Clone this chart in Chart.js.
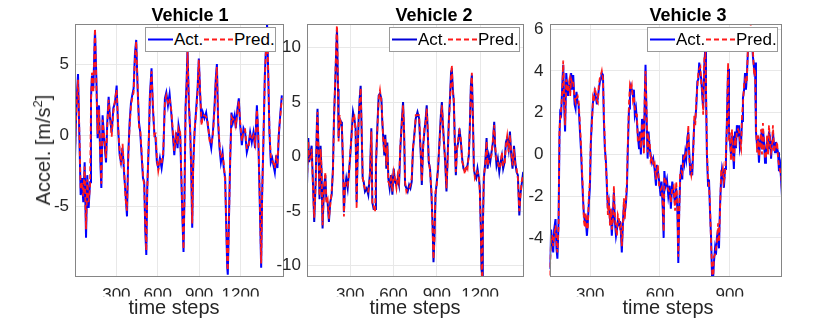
<!DOCTYPE html>
<html><head><meta charset="utf-8">
<script src="https://cdn.jsdelivr.net/npm/chart.js@4.4.0/dist/chart.umd.min.js"></script>
<style>
body{margin:0;background:#fff;}
#wrap{position:relative;width:830px;height:321px;overflow:hidden;font-family:"Liberation Sans",Arial,Helvetica,sans-serif;color:#262626;background:#fff;}
canvas{position:absolute;left:0;top:0;}
.t{position:absolute;top:6px;font-weight:bold;font-size:18px;line-height:18px;color:#000;transform:translateX(-50%);white-space:nowrap;z-index:2;}
.xl{position:absolute;top:297px;font-size:20px;line-height:20px;transform:translateX(-50%);white-space:nowrap;z-index:2;}
.yl{position:absolute;left:43px;top:150px;font-size:20px;line-height:20px;white-space:nowrap;transform:translate(-50%,-50%) rotate(-90deg);z-index:2;}
.yl sup{font-size:13px;line-height:0;vertical-align:8px;}
.lg{position:absolute;width:129px;height:23px;border:1px solid #9a9a9a;background:#fff;z-index:3;font-size:17px;line-height:17px;color:#000;}
.lg span{position:absolute;top:3px;white-space:nowrap;}
.lg svg{position:absolute;top:10px;}
</style>
</head>
<body>
<div id="wrap">
<canvas id="c1" width="830" height="321"></canvas>
<canvas id="c2" width="830" height="321"></canvas>
<canvas id="c3" width="830" height="321"></canvas>
<div class="t" style="left:190px">Vehicle 1</div>
<div class="t" style="left:434px">Vehicle 2</div>
<div class="t" style="left:688px">Vehicle 3</div>
<div class="yl">Accel. [m/s<sup>2</sup>]</div>
<div class="xl" style="left:174px">time steps</div>
<div class="xl" style="left:415px">time steps</div>
<div class="xl" style="left:668px">time steps</div>
<div id="lg1" class="lg" style="left:145px;top:27px"></div>
<div id="lg2" class="lg" style="left:389px;top:27px"></div>
<div id="lg3" class="lg" style="left:647px;top:27px"></div>
</div>
<script>
// ---------- Vehicle 1 ----------
const v1Steps = [0,10,22,31,41,51,60,70,80,89,
99,109,116,123,133,145,155,164,174,184,
191,200,213,225,234,244,254,266,278,290,
302,314,324,333,345,357,367,377,386,396,
406,415,425,435,444,454,464,473,483,493,
502,510,517,524,534,543,555,565,575,584,
594,604,616,628,640,652,662,674,686,698,
710,720,732,744,751,763,773,780,787,794,
802,809,816,826,836,843,850,857,867,879,
889,898,908,918,927,939,951,963,976,988,
1000,1012,1021,1029,1038,1048,1058,1070,1079,1089,
1096,1104,1108,1116,1125,1135,1145,1157,1166,1178,
1188,1198,1210,1222,1234,1246,1258,1270,1282,1294,
1306,1319,1328,1335,1343,1350,1357,1367,1376,1386,
1393,1401,1410,1420,1430,1439,1449,1459,1468,1478,
1488,1500];
const v1Act = [-1.6,2.1,4.3,0.2,-4.2,-3.0,-4.7,-1.9,-7.2,-2.8,
-5.1,-3.3,2.6,4.2,3.3,7.4,4.0,-0.2,2.1,-1.9,
-3.7,1.4,-0.5,-1.9,0.9,2.7,1.2,0.2,1.9,2.3,
3.5,0.2,-1.4,-1.9,-0.9,-2.8,-4.2,-5.7,-1.4,0.9,
2.3,2.8,3.3,5.8,6.7,3.3,0.9,0.2,-1.4,-3.0,
-3.3,-6.8,-8.4,-3.7,-0.9,2.8,4.7,1.9,0.2,-0.2,
-1.9,-2.3,-1.6,-2.3,-1.4,2.6,3.0,2.1,2.9,1.6,
0.0,-1.4,0.2,-0.9,0.7,0.0,-3.7,-6.1,-8.2,-4.2,
2.1,3.7,6.1,2.1,0.2,-2.6,-6.5,-2.1,0.2,1.9,
3.3,5.4,2.8,0.9,1.6,1.2,1.6,0.7,-0.2,-0.9,
0.2,2.1,4.0,5.0,0.9,-0.9,-1.9,-1.2,-2.3,-3.0,
-6.1,-9.3,-9.8,-6.1,-1.9,1.6,0.9,1.4,0.5,1.9,
2.6,0.7,-0.7,0.5,0.2,-1.2,-0.7,0.2,-0.5,0.2,
-0.9,2.1,0.2,-2.6,-6.1,-9.3,-4.2,-0.2,4.0,6.5,
7.8,4.4,0.2,-1.9,-1.6,-2.1,-2.6,-1.4,-2.3,0.0,
1.4,2.8];
const v1Pred = [-1.2,1.8,3.9,0.5,-3.8,-3.3,-4.3,-2.2,-6.6,-3.1,
-4.7,-3.6,2.3,4.4,3.0,7.5,3.6,0.1,1.8,-1.6,
-3.4,1.1,-0.2,-1.6,0.6,2.5,1.4,-0.1,1.6,2.5,
3.2,0.5,-1.1,-2.1,-0.6,-2.5,-4.5,-5.3,-1.7,0.6,
2.1,2.6,3.0,5.5,6.6,3.6,0.6,0.4,-1.1,-2.7,
-3.6,-6.4,-8.1,-3.9,-0.6,2.5,4.5,2.2,0.0,0.1,
-1.6,-2.5,-1.8,-2.0,-1.1,2.3,2.8,2.3,2.6,1.8,
0.3,-1.1,0.0,-0.6,0.5,0.2,-3.4,-5.8,-8.0,-4.5,
1.8,3.4,5.9,2.4,0.0,-2.3,-6.2,-2.4,0.4,1.6,
3.0,5.3,3.0,0.7,1.4,1.4,1.3,0.9,-0.4,-0.6,
0.0,1.8,3.8,4.8,1.2,-0.6,-1.6,-1.4,-2.0,-3.3,
-5.8,-9.0,-9.5,-6.4,-1.6,1.3,1.1,1.2,0.7,1.6,
2.4,0.9,-0.4,0.3,0.4,-0.9,-0.9,0.0,-0.3,0.0,
-0.6,1.8,0.4,-2.3,-5.8,-9.0,-4.5,0.1,3.7,6.3,
7.5,4.6,0.4,-1.6,-1.8,-1.9,-2.3,-1.6,-2.0,0.2,
1.2,2.6];
const v1XTicks = [300,600,900,1200];
const v1YTicks = [-5,0,5];

// ---------- Vehicle 2 ----------
const v2Steps = [0,9,15,22,32,41,50,60,69,73,
80,87,94,101,108,117,127,134,143,152,
161,171,180,187,196,203,208,215,219,226,
236,242,249,256,263,272,282,291,300,310,
319,328,337,344,351,358,365,372,379,386,
393,402,414,425,437,446,453,462,472,478,
488,497,506,516,522,529,536,543,550,557,
564,573,583,592,601,610,620,629,638,647,
657,666,673,680,689,698,708,717,726,735,
742,754,766,777,789,796,805,814,823,830,
837,844,853,863,870,877,884,891,900,909,
918,928,935,941,948,958,967,974,983,992,
999,1004,1011,1018,1025,1032,1039,1048,1057,1067,
1076,1085,1094,1104,1113,1122,1129,1136,1143,1150,
1157,1164,1173,1182,1192,1198,1205,1210,1215,1219,
1226,1236,1245,1252,1261,1270,1279,1289,1298,1305,
1314,1323,1333,1342,1351,1360,1370,1379,1388,1398,
1407,1416,1425,1435,1444,1453,1462,1472,1479,1488,
1499];
const v2Act = [-2.6,1.7,-0.5,0.1,1.0,-2.3,-6.0,-2.3,3.2,4.4,
0.1,-3.9,1.0,-1.4,-6.6,-2.9,-1.7,-3.9,-4.2,-6.0,
-4.2,-3.5,-1.1,3.5,6.9,9.9,11.7,6.2,1.7,3.5,
3.2,2.6,-0.5,-5.1,-2.9,-2.0,-2.9,-1.4,0.1,2.3,
4.1,3.5,2.6,-4.2,0.1,3.5,5.3,6.5,2.3,-2.0,
-2.3,-3.2,-2.9,-3.5,-1.4,2.6,-4.2,-4.8,-4.8,-0.8,
2.8,5.6,5.8,5.3,3.2,1.7,0.1,2.0,-1.1,1.3,
-2.0,-2.9,-1.7,-3.5,-1.1,-2.3,-2.6,-2.0,-2.6,0.7,
3.2,5.0,2.3,-2.6,-2.9,-3.2,-2.6,-2.9,-2.3,0.7,
1.7,3.5,4.1,3.5,0.1,-2.6,1.0,2.3,3.5,4.7,
2.3,-0.5,-1.1,-3.5,-6.0,-9.7,-7.2,-3.5,-2.3,-1.1,
1.3,3.8,5.0,3.2,1.7,-0.5,-3.2,-0.5,3.2,5.6,
7.8,8.1,6.2,5.0,1.3,-1.7,0.7,1.3,2.6,1.3,
-0.2,-1.1,-1.3,-1.1,-0.8,0.1,2.8,6.5,7.5,3.8,
-1.1,-1.7,-2.0,-1.1,-2.0,-2.9,-6.6,-10.3,-10.9,-6.6,
-2.0,-0.5,1.7,-1.1,0.1,-0.5,0.4,1.3,3.2,0.7,
-0.8,-0.2,-1.4,-0.5,0.1,-1.1,-0.5,1.3,1.7,0.7,
2.3,0.1,-1.1,1.0,-0.5,-1.4,-1.7,-5.4,-3.5,-2.6,
-1.4];
const v2Pred = [-2.2,1.4,-0.2,-0.2,0.7,-2.6,-5.6,-2.6,2.9,4.1,
0.4,-3.6,0.7,-1.1,-6.3,-3.2,-1.4,-4.2,-3.9,-5.7,
-4.5,-3.2,-1.4,3.2,7.2,10.3,12.4,6.6,1.4,3.8,
2.9,2.9,-0.2,-5.5,-2.6,-2.3,-2.6,-1.7,0.4,2.0,
3.8,3.8,2.3,-4.8,0.4,3.2,5.0,6.3,2.6,-1.7,
-2.6,-2.9,-3.2,-3.2,-1.7,2.3,-4.5,-4.5,-5.1,-0.5,
2.5,5.3,6.1,5.0,3.5,1.4,0.4,1.7,-0.8,1.0,
-2.3,-2.6,-2.0,-3.2,-1.4,-2.0,-2.9,-1.7,-2.3,1.0,
2.9,4.7,2.6,-2.3,-3.2,-2.9,-2.9,-2.6,-2.0,1.0,
1.4,3.8,3.8,3.8,0.4,-2.3,0.7,2.6,3.2,4.4,
2.6,-0.2,-1.4,-3.2,-6.3,-9.4,-7.5,-3.2,-2.6,-0.8,
1.0,3.5,4.7,3.5,1.4,-0.2,-2.9,-0.8,2.9,5.3,
7.4,8.4,5.9,5.3,1.0,-1.4,0.4,1.6,2.3,1.6,
-0.5,-0.8,-1.6,-0.8,-1.1,0.4,2.5,6.2,7.7,3.5,
-0.8,-2.0,-1.7,-1.4,-1.7,-3.2,-6.3,-10.0,-11.2,-6.9,
-1.7,-0.8,1.4,-0.8,-0.2,-0.2,0.1,1.6,2.9,1.0,
-0.5,-0.5,-1.1,-0.8,0.4,-0.8,-0.8,1.0,1.9,0.4,
2.0,0.4,-0.8,0.7,-0.8,-1.1,-2.0,-5.0,-3.8,-2.3,
-1.7];
const v2XTicks = [300,600,900,1200];
const v2YTicks = [-10,-5,0,5,10];

// ---------- Vehicle 3 ----------
const v3Steps = [126,132,137,141,145,151,155,159,164,168,
171,175,180,184,188,192,197,201,205,210,
214,218,223,227,233,237,241,246,250,256,
260,264,269,273,277,281,286,290,294,299,
303,307,312,316,320,325,329,333,337,342,
346,350,355,359,363,368,372,376,380,385,
389,393,398,402,406,411,415,419,424,428,
432,436,441,445,449,454,458,462,467,471,
475,479,484,488,492,497,501,505,510,514,
518,523,527,531,535,538,543,547,551,556,
560,566,571,577,583,587,591,597,603,607,
612,616,619,624,630,636,642,647,653,659,
665,670,675,679,683,687,692,696,700,705,
709,713,718,722,726,731,735,739,743,748,
752,756,761,765,769,774,778,782,786,791,
795,798,802,807,811,815,820,824,828,832,
837,841,845,850,854,858,863,867,871,875,
880,884,888,893,897,901,906,910,914,918,
923,927,931,936,940,944,949,953,957,962,
966,970,974,979,983,987,992,996,1000,1005,
1009,1013,1018,1022,1026,1030,1035,1039,1043,1048,
1052,1056,1061,1065,1069,1074,1078,1082,1086,1091,
1095,1099,1104,1108,1112,1117,1121,1125];
const v3Act = [-5.5,-3.6,-4.2,-4.7,-3.6,-3.1,-4.5,-5.0,-3.2,0.9,
2.0,1.9,3.3,4.3,2.4,1.1,3.9,3.3,2.8,3.3,
3.0,3.9,3.1,3.8,2.4,2.2,3.0,2.5,2.4,1.1,
0.3,-0.8,-2.1,-2.9,-3.2,-3.1,-3.9,-3.2,-2.4,-1.5,
0.6,1.6,2.5,2.7,3.0,2.7,2.4,2.7,3.1,3.5,
3.6,3.9,3.8,1.6,0.3,-0.4,-1.6,-2.6,-2.3,-3.1,
-2.9,-3.9,-2.8,-1.8,-3.2,-3.9,-3.6,-3.2,-3.4,-3.2,
-3.7,-4.7,-3.2,-2.4,-2.8,-2.3,-1.6,0.3,2.2,3.1,
3.3,3.1,2.8,3.1,1.9,2.2,1.6,0.9,0.3,1.1,
0.0,1.7,1.2,0.3,2.8,4.3,1.6,-0.2,1.1,0.3,
0.0,-0.4,-0.2,-0.7,-1.5,-0.5,-0.8,-1.3,-2.0,-1.3,
-2.6,-4.0,-0.8,-1.5,-1.2,-2.0,-1.5,-2.6,-1.3,-1.8,
-2.4,-1.6,-2.6,-5.2,-2.6,-1.2,-0.5,-1.2,0.0,-0.4,
0.1,-0.2,0.8,1.1,0.1,-1.0,-0.7,-1.0,0.3,1.6,
1.7,2.2,3.5,3.6,4.4,3.9,3.6,2.8,2.2,4.3,
5.1,3.1,0.0,-1.5,-1.2,-2.6,-4.0,-5.8,-6.1,-5.2,
-4.5,-4.8,-4.0,-3.6,-4.5,-2.6,-1.2,-0.7,-1.0,-1.6,
-0.7,-0.2,1.6,4.1,1.1,0.6,0.0,0.9,0.3,-0.7,
1.1,0.3,1.4,0.9,1.4,0.3,0.6,1.6,2.7,3.1,
3.9,3.1,3.8,5.1,5.5,5.1,6.0,5.4,4.7,4.1,
4.4,1.1,0.4,0.6,-0.4,0.6,0.9,0.3,1.2,0.6,
-0.4,0.1,0.6,0.3,1.1,0.8,-0.2,0.6,1.1,0.4,
0.1,0.6,0.3,0.1,-0.8,-0.5,-1.2,-2.0];
const v3Pred = [-5.8,-3.9,-3.9,-4.4,-3.9,-3.4,-4.2,-4.7,-3.5,1.2,
1.7,2.2,3.0,4.5,2.7,1.4,3.6,3.0,3.1,3.5,
2.8,3.6,3.4,3.5,2.7,2.5,2.7,2.8,2.6,1.4,
0.6,-0.5,-1.8,-3.2,-3.5,-2.8,-3.6,-3.5,-2.1,-1.2,
0.9,1.3,2.7,2.5,3.2,2.9,2.6,2.5,3.3,3.7,
3.8,4.0,3.6,1.9,0.6,-0.7,-1.3,-2.9,-2.0,-3.4,
-2.6,-3.6,-3.1,-1.5,-2.9,-3.6,-3.9,-2.9,-3.1,-3.5,
-3.4,-4.4,-3.5,-2.1,-3.1,-2.0,-1.3,0.6,2.5,3.3,
3.1,3.3,2.6,2.8,2.2,1.9,1.9,0.6,0.6,0.8,
0.3,1.4,1.5,0.0,3.1,4.0,1.9,0.1,0.8,0.6,
-0.3,-0.1,-0.5,-0.4,-1.2,-0.8,-0.5,-1.6,-1.7,-1.6,
-2.3,-3.7,-1.1,-1.2,-1.5,-1.7,-1.8,-2.3,-1.6,-1.5,
-2.7,-1.3,-2.3,-4.9,-2.9,-0.9,-0.8,-0.9,-0.3,-0.1,
-0.2,0.1,0.5,1.4,-0.2,-0.7,-1.0,-0.7,0.0,1.9,
1.4,2.5,3.2,3.9,4.1,4.2,3.3,3.1,1.9,4.6,
4.8,3.4,0.3,-1.2,-1.5,-2.3,-4.3,-5.5,-6.4,-4.9,
-4.8,-4.5,-4.3,-3.3,-4.2,-2.9,-0.9,-1.0,-0.7,-1.3,
-1.0,0.1,1.3,4.4,0.8,0.9,-0.3,1.2,0.0,-0.4,
0.8,0.6,1.1,1.2,1.1,0.6,0.3,1.9,2.4,3.4,
3.6,3.4,3.5,5.4,5.2,5.4,6.5,5.1,5.0,3.8,
4.1,1.4,0.1,0.9,-0.1,0.3,1.2,0.0,1.5,0.3,
-0.1,-0.2,0.9,0.0,1.4,0.5,0.1,0.3,1.4,0.1,
0.4,0.3,0.6,-0.2,-0.5,-0.8,-0.9,-1.8];
const v3XTicks = [300,600,900];
const v3YTicks = [-4,-2,0,2,4,6];

const seriesNames = ['Act.', 'Pred.'];

const FONT = '"Liberation Sans", Arial, Helvetica, sans-serif';
const boxPlugin = {
  id: 'axbox',
  afterDraw(chart) {
    const a = chart.chartArea, c = chart.ctx;
    c.save();
    c.strokeStyle = '#858585';
    c.lineWidth = 1;
    const l = Math.round(a.left) + 0.5, t = Math.round(a.top) + 0.5;
    const r = Math.round(a.right) - 0.5, b = Math.round(a.bottom) - 0.5;
    c.strokeRect(l, t, r - l, b - t);
    c.restore();
  }
};

function panel(id, steps, act, pred, xmin, xmax, ymin, ymax, xt, yt, L, R, blue) {
  const yW = 30, xH = 20, T = 24, B = 276.5;
  return new Chart(document.getElementById(id), {
    type: 'line',
    data: {
      datasets: [
        { label: seriesNames[0], data: steps.map((s, i) => ({ x: s, y: act[i] })),
          borderColor: blue, borderWidth: 2, pointRadius: 0, tension: 0, fill: false, order: 1 },
        { label: seriesNames[1], data: steps.map((s, i) => ({ x: s, y: pred[i] })),
          borderColor: '#ff1a1a', borderWidth: 1.8, borderDash: [5, 3], pointRadius: 0, tension: 0, fill: false, order: 0 }
      ]
    },
    options: {
      responsive: false, animation: false, events: [],
      layout: { padding: { left: L - yW, right: 830 - R, top: T, bottom: 321 - B - xH } },
      plugins: { legend: { display: false }, tooltip: { enabled: false }, title: { display: false } },
      scales: {
        x: {
          type: 'linear', min: xmin, max: xmax,
          afterFit(s) { s.height = xH; },
          afterBuildTicks(s) { s.ticks = xt.map(v => ({ value: v })); },
          grid: { color: '#e8e8e8', drawTicks: false, lineWidth: 1 },
          border: { display: false },
          ticks: { font: { family: FONT, size: 17 }, color: '#262626', padding: 9, maxRotation: 0, autoSkip: false, callback: v => String(v) }
        },
        y: {
          type: 'linear', min: ymin, max: ymax,
          afterFit(s) { s.width = yW; },
          afterBuildTicks(s) { s.ticks = yt.map(v => ({ value: v })); },
          grid: { color: '#e8e8e8', drawTicks: false, lineWidth: 1 },
          border: { display: false },
          ticks: { font: { family: FONT, size: 17 }, color: '#262626', padding: 6, autoSkip: false, callback: v => String(v) }
        }
      }
    },
    plugins: [boxPlugin]
  });
}

panel('c1', v1Steps, v1Act, v1Pred, 0, 1512, -9.92, 7.82, v1XTicks, v1YTicks, 75, 283.5, '#0000ff');
panel('c2', v2Steps, v2Act, v2Pred, 0, 1501, -11.0, 12.17, v2XTicks, v2YTicks, 307, 523.5, '#0000d8');
panel('c3', v3Steps, v3Act, v3Pred, 125, 1125, -5.85, 6.25, v3XTicks, v3YTicks, 549.5, 782, '#0000ff');

function legend(id, blue) {
  const el = document.getElementById(id);
  el.innerHTML =
    '<svg style="left:2px" width="25" height="3"><line x1="0" y1="1.5" x2="25" y2="1.5" stroke="' + blue + '" stroke-width="2"/></svg>' +
    '<span style="left:28px">' + seriesNames[0] + '</span>' +
    '<svg style="left:58px" width="29" height="3"><line x1="0" y1="1.5" x2="29" y2="1.5" stroke="#ff1a1a" stroke-width="2" stroke-dasharray="5,3"/></svg>' +
    '<span style="left:88px">' + seriesNames[1] + '</span>';
}
legend('lg1', '#0000ff');
legend('lg2', '#0000d8');
legend('lg3', '#0000ff');
</script>
</body></html>
